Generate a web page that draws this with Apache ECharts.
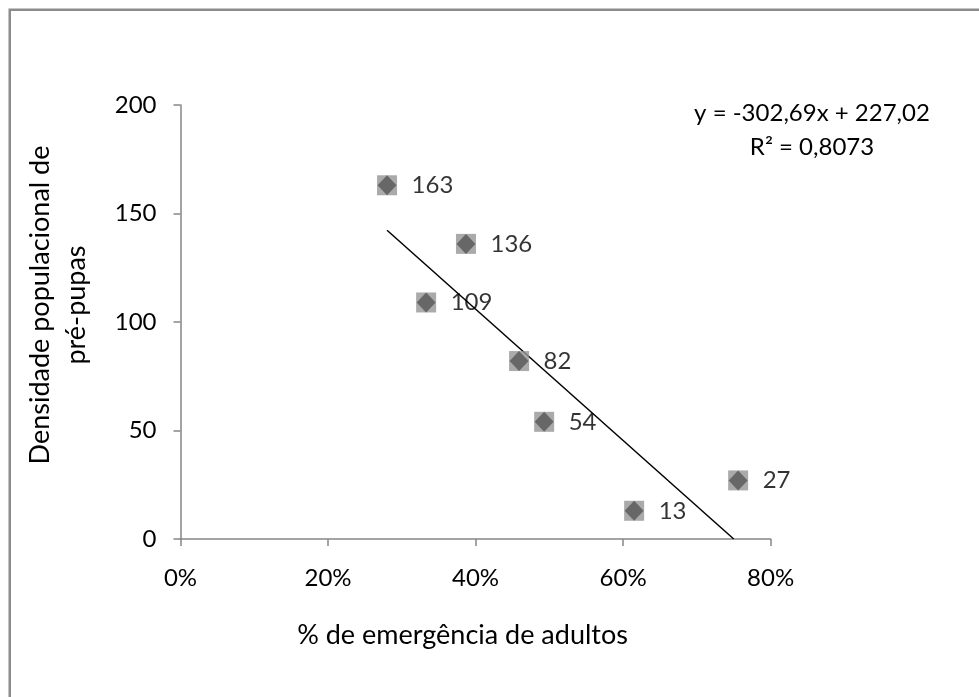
<!DOCTYPE html>
<html>
<head>
<meta charset="utf-8">
<script src="https://cdn.jsdelivr.net/npm/echarts@6/dist/echarts.min.js"></script>
<style>
  html, body { margin: 0; padding: 0; background: #ffffff; }
  #chart { width: 979px; height: 697px; }
</style>
</head>
<body>
<div id="chart"></div>
<script>
// Adult emergence (%) against pre-pupa population density
const emergence = [28.0, 38.7, 33.3, 45.9, 49.3, 61.5, 75.6];
const density = [163, 136, 109, 82, 54, 13, 27];
const xTickValues = [0, 20, 40, 60, 80];
const yTickValues = [0, 50, 100, 150, 200];
const trendSlope = -302.69;
const trendIntercept = 227.02;
const equationLines = ['y = -302,69x + 227,02', 'R² = 0,8073'];
const xTitle = '% de emergência de adultos';
const yTitle = 'Densidade populacional de\npré-pupas';

const FONT = 'Lato';
const FS = 24;       // numbers and equation
const TITLE_FS = 27; // axis titles
const points = emergence.map((e, i) => [e, density[i]]);

// linear trend (x as a fraction), stopped where it meets y = 0
const trendY = x => trendSlope * x / 100 + trendIntercept;
const xStart = Math.min(...emergence);
const xRoot = -trendIntercept / trendSlope * 100;
const xEnd = Math.min(Math.max(...emergence), xRoot);
const trendPoints = [[xStart, trendY(xStart)], [xEnd, Math.max(0, trendY(xEnd))]];

const axisGray = '#868686';
const chart = echarts.init(document.getElementById('chart'), null, { renderer: 'canvas' });

chart.setOption({
  backgroundColor: '#ffffff',
  animation: false,
  grid: { left: 180.5, right: 208.4, top: 105, bottom: 158 },
  xAxis: {
    type: 'value',
    min: xTickValues[0],
    max: xTickValues[xTickValues.length - 1],
    interval: xTickValues[1] - xTickValues[0],
    splitLine: { show: false },
    axisLine: { show: true, onZero: false, lineStyle: { color: axisGray, width: 1.5 } },
    axisTick: { show: true, inside: false, length: 7, lineStyle: { color: axisGray, width: 1.5 } },
    axisLabel: { margin: 27, color: '#000', fontFamily: FONT, fontSize: FS, formatter: '{value}%' },
    name: xTitle,
    nameLocation: 'middle',
    nameGap: 83,
    nameTextStyle: { color: '#000', fontFamily: FONT, fontSize: TITLE_FS, padding: [0, 26, 0, 0] }
  },
  yAxis: {
    type: 'value',
    min: yTickValues[0],
    max: yTickValues[yTickValues.length - 1],
    interval: yTickValues[1] - yTickValues[0],
    splitLine: { show: false },
    axisLine: { show: true, lineStyle: { color: axisGray, width: 1.5 } },
    axisTick: { show: true, inside: false, length: 7, lineStyle: { color: axisGray, width: 1.5 } },
    axisLabel: { margin: 24, color: '#000', fontFamily: FONT, fontSize: FS },
    name: yTitle,
    nameLocation: 'middle',
    nameGap: 86,
    nameTextStyle: {
      color: '#000', fontFamily: FONT, fontSize: TITLE_FS, lineHeight: 36, align: 'center',
      padding: [0, 0, 0, 34]
    }
  },
  series: [
    {
      name: 'trend',
      type: 'line',
      data: trendPoints,
      symbol: 'none',
      lineStyle: { color: '#000', width: 1.5 },
      z: 3,
      silent: true
    },
    {
      name: 'marker-back',
      type: 'scatter',
      data: points,
      symbol: 'rect',
      symbolSize: 20,
      itemStyle: { color: '#959595' },
      z: 4
    },
    {
      name: 'density',
      type: 'scatter',
      data: points,
      symbol: 'diamond',
      symbolSize: [19, 20],
      itemStyle: { color: '#565656' },
      label: {
        show: true,
        position: 'right',
        distance: 15,
        color: '#000',
        fontFamily: FONT,
        fontSize: FS,
        formatter: p => String(p.value[1])
      },
      z: 5
    }
  ],
  graphic: [
    {
      type: 'rect',
      shape: { x: 9.75, y: 9.75, width: 1200, height: 1200 },
      style: { fill: 'none', stroke: '#8c8c8c', lineWidth: 2.5 },
      silent: true,
      z: 0
    },
    {
      type: 'text',
      x: 812,
      y: 130,
      style: {
        text: equationLines.join('\n'),
        fill: '#000',
        font: FS + 'px ' + FONT,
        lineHeight: 34,
        align: 'center',
        verticalAlign: 'middle'
      },
      z: 10
    }
  ]
});
</script>
</body>
</html>
